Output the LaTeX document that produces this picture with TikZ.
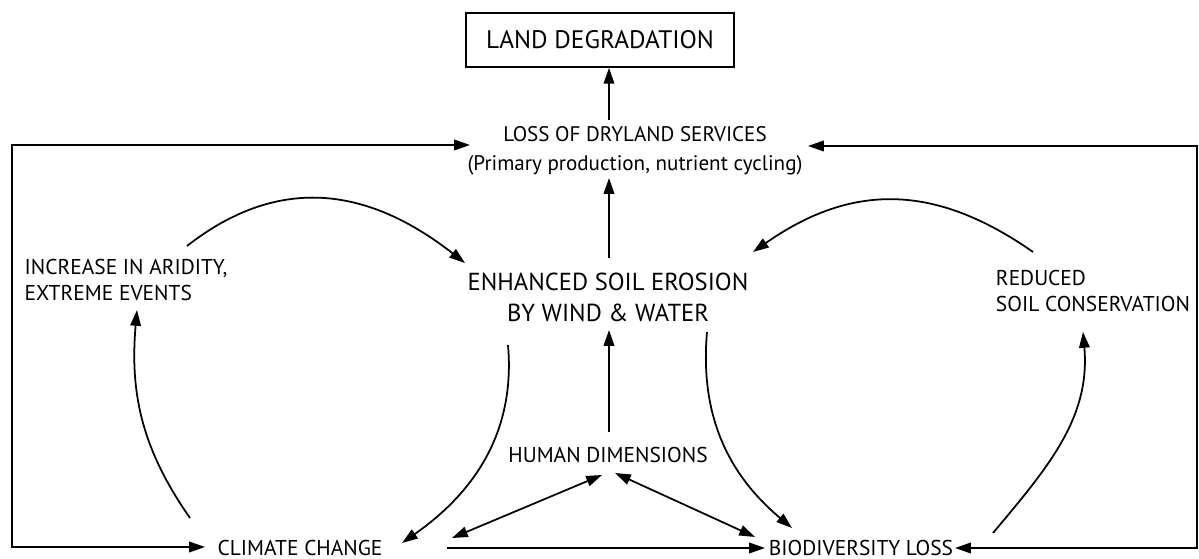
\documentclass[tikz,border=0pt]{standalone}
\usepackage{fontspec}
\setmainfont{PT Sans}
\usetikzlibrary{arrows.meta}

\begin{document}
\begin{tikzpicture}[>={Triangle[length=9pt,width=6pt]},line width=1pt,
    txt/.style={align=center,inner sep=0pt,font=\fontsize{12.2}{15.3}\selectfont},
    box/.style={draw,line width=1pt,minimum width=5.36cm,minimum height=1.08cm,
      font=\fontsize{14.4}{16}\selectfont}]
      \useasboundingbox (0,0) rectangle (23.98,11.18);

      \node[txt,font=\fontsize{14}{17.6}\selectfont] (1) at (12.16,5.24) {ENHANCED SOIL EROSION\\BY WIND \& WATER};
      \node[txt,above of=1,xshift=0.54cm,yshift=1.92cm,font=\fontsize{12}{16.4}\selectfont] (2) {LOSS OF DRYLAND SERVICES\\(Primary production, nutrient cycling)};
      \node[box,above of=2,xshift=-0.7cm,yshift=1.22cm] (3) {LAND DEGRADATION};
      \node[txt,below of=1,yshift=-2.16cm] (4) {HUMAN DIMENSIONS};
      \node[txt,below of=4,xshift=-6.16cm,yshift=-0.86cm] (5) {CLIMATE CHANGE};
      \node[txt,below of=4,xshift=5.06cm,yshift=-0.86cm] (6) {BIODIVERSITY LOSS};
      \node[txt,align=left,left of=1,xshift=-8.64cm,yshift=0.34cm] (7) {INCREASE IN ARIDITY,\\EXTREME EVENTS};
      \node[txt,align=left,right of=1,xshift=8.7cm,yshift=0.12cm] (8) {REDUCED\\SOIL CONSERVATION};

      \draw[->] ([shift={(-0.52,0.62)}]2.center) -- ([xshift=0.18cm]3.south);
      \draw[->] ([shift={(0.02,0.78)}]1.center) -- ([shift={(-0.52,-0.54)}]2.center);
      \draw[->] ([shift={(0.02,0.46)}]4.center) -- ([shift={(0.02,-0.66)}]1.center);
      \draw[->] ([shift={(2.94,0)}]5.center) -- ([shift={(-1.92,0)}]6.center);
      \draw[<->] ([shift={(3.04,0.2)}]5.center) -- ([shift={(-0.12,-0.4)}]4.center);
      \draw[<->] ([shift={(0.14,-0.36)}]4.center) -- ([shift={(-2.12,0.22)}]6.center);

      \draw[->] ([shift={(-2.0,-0.96)}]1.center) to[out=-85,in=35] ([shift={(2.04,0.1)}]5.center);
      \draw[->] ([shift={(1.98,-0.7)}]1.center) to[out=-95,in=140] ([shift={(-1.38,0.4)}]6.center);
      \draw[->] ([shift={(-2.2,0.6)}]5.center) to[out=125,in=-95] ([shift={(0.22,-0.6)}]7.center);
      \draw[->] ([shift={(1.22,0.68)}]7.center) to[out=38,in=142,looseness=1.1] ([shift={(-2.86,0.68)}]1.center);
      \draw[->] ([shift={(-1.2,0.78)}]8.center) to[out=145,in=35,looseness=1.1] ([shift={(2.9,0.9)}]1.center);
      \draw[->] ([shift={(2.64,0.3)}]6.center) to[out=50,in=-85] ([shift={(-0.2,-0.82)}]8.center);

      \draw[<->] ([shift={(-3.3,0.12)}]2.center) -| (0.24,0.24) -- ([shift={(-1.9,0.02)}]5.center);
      \draw[<->] ([shift={(3.46,0.1)}]2.center) -| (23.94,0.22) -- ([shift={(1.88,0)}]6.center);
    \end{tikzpicture}
\end{document}
